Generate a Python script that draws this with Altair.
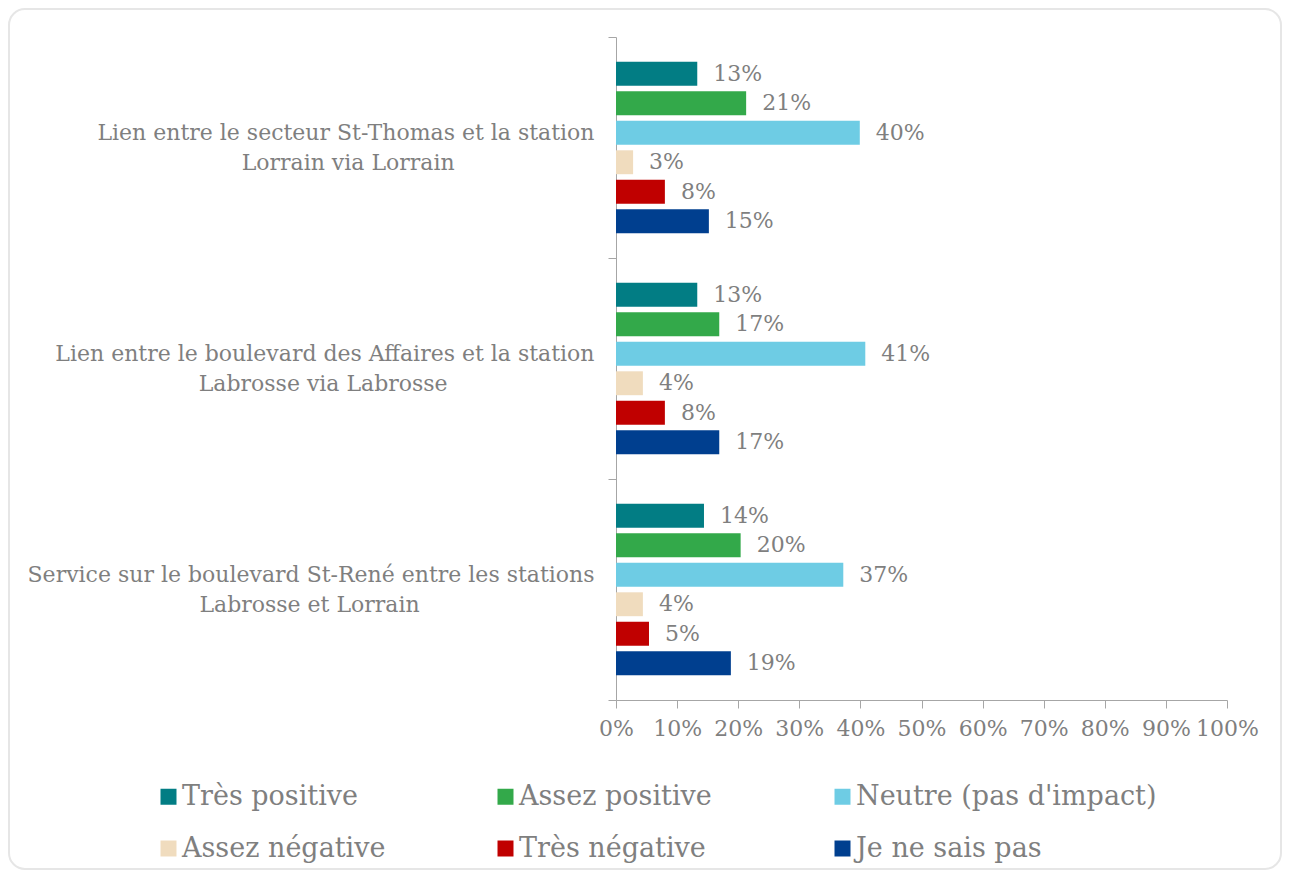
import altair as alt
import pandas as pd

categories = [
    "Lien entre le secteur St-Thomas et la station|Lorrain via Lorrain",
    "Lien entre le boulevard des Affaires et la station|Labrosse via Labrosse",
    "Service sur le boulevard St-René entre les stations|Labrosse et Lorrain",
]
pad_counts = [20, 21, 25]
series = ["Très positive", "Assez positive", "Neutre (pas d'impact)",
          "Assez négative", "Très négative", "Je ne sais pas"]
colors = ["#027D84", "#33A94A", "#6ECCE4", "#F0DCBE", "#C00000", "#003F8F"]
values = [
    [0.133, 0.213, 0.399, 0.028, 0.080, 0.152],
    [0.133, 0.169, 0.408, 0.044, 0.080, 0.169],
    [0.144, 0.204, 0.372, 0.044, 0.054, 0.188],
]

NB = "\u00a0"
ZW = "\u200b"
cat_labels = []
for c, n in zip(categories, pad_counts):
    a, b = c.split("|")
    cat_labels.append(a + "|" + b + NB * n + ZW)

rows = []
for ci, c in enumerate(cat_labels):
    for si, s in enumerate(series):
        rows.append({"cat": c, "series": s, "value": values[ci][si], "order": si})
df = pd.DataFrame(rows)

FONT = "DejaVu Serif"
GRAY = "#7F7F7F"
AXG = "#A6A6A6"

base = alt.Chart(df).encode(
    y=alt.Y("cat:N", sort=cat_labels, title=None,
            scale=alt.Scale(paddingInner=0, paddingOuter=0),
            axis=alt.Axis(labelExpr="split(datum.label, '|')", labelAlign="right",
                          labelFont=FONT, labelFontSize=22, labelColor=GRAY,
                          labelLineHeight=30, labelPadding=14, labelOffset=-15,
                          tickBand="extent",
                          tickSize=8, tickColor=AXG, domainColor=AXG, labelLimit=0)),
    yOffset=alt.YOffset("series:N", sort=series,
                        scale=alt.Scale(paddingInner=0.19, paddingOuter=0.84)),
)

bars = base.mark_bar().encode(
    x=alt.X("value:Q", scale=alt.Scale(domain=[0, 1]), title=None,
            axis=alt.Axis(format=".0%", values=[i / 10 for i in range(11)],
                          labelFont=FONT, labelFontSize=22, labelColor=GRAY,
                          tickSize=8, tickColor=AXG, domainColor=AXG,
                          labelPadding=10, grid=False, labelFlush=False)),
    color=alt.Color("series:N", sort=series,
                    scale=alt.Scale(domain=series, range=colors),
                    legend=alt.Legend(title=None, orient="none", direction="horizontal",
                                      columns=3, gridAlign="all", columnPadding=9,
                                      rowPadding=24, legendX=-461, legendY=746,
                                      symbolType="square", symbolSize=256,
                                      symbolStrokeWidth=0, labelFont=FONT,
                                      labelFontSize=27, labelColor=GRAY,
                                      labelOffset=0, labelLimit=0)),
)

labels = base.mark_text(align="left", baseline="middle", dx=16, font=FONT,
                        fontSize=22, color=GRAY).encode(
    x="value:Q",
    text=alt.Text("value:Q", format=".0%"),
)

frame = alt.Chart(pd.DataFrame({"f": [0]})).mark_rect(
    fill="white", fillOpacity=0, stroke="#E6E6E6", strokeWidth=2, cornerRadius=16
).encode(
    x=alt.value(-607), x2=alt.value(665), y=alt.value(-28), y2=alt.value(832)
)

chart = alt.layer(frame, bars, labels).properties(
    width=611, height=663,
    autosize=alt.AutoSizeParams(type="none"),
    padding={"left": 608, "top": 29, "right": 55, "bottom": 170},
).configure(background="white").configure_view(stroke=None)

chart.save("out.html", embed_options={"renderer": "svg", "actions": False})
